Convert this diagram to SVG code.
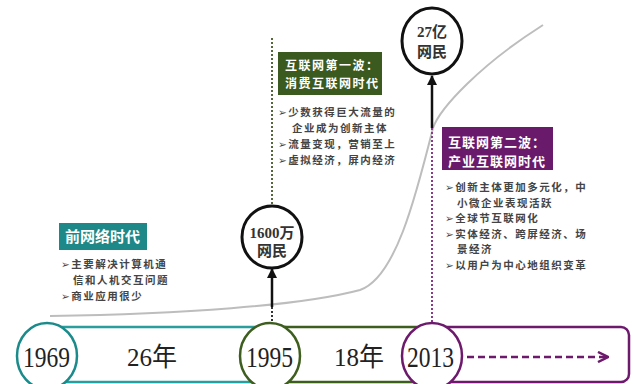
<svg xmlns="http://www.w3.org/2000/svg" width="633" height="384" viewBox="0 0 633 384">
<defs>
<style>
.ttl{font-family:"Noto Sans CJK SC",sans-serif;font-weight:700;fill:#fff;}
.bul{font-family:"Noto Sans CJK SC","DejaVu Sans",sans-serif;font-size:10.5px;letter-spacing:1.5px;font-weight:700;fill:#444;}
.yr{font-family:"Liberation Serif","Noto Sans CJK SC",serif;font-size:29px;fill:#222;}
.gap{font-family:"Liberation Serif","Noto Sans CJK SC",serif;font-size:26px;fill:#222;}
.cl{font-family:"Liberation Serif","Noto Sans CJK SC",serif;font-size:15px;font-weight:700;fill:#333;text-anchor:middle;}
.bc{fill:#fff;stroke:#111;stroke-width:3;}
</style>
<marker id="ah" viewBox="0 0 10 10" refX="9" refY="5" markerWidth="4" markerHeight="4" orient="auto">
<path d="M0,0 L10,5 L0,10 z" fill="#111"/>
</marker>
<marker id="pa" viewBox="0 0 10 10" refX="9" refY="5" markerWidth="5" markerHeight="5" orient="auto" markerUnits="strokeWidth">
<path d="M1,1 L9,5 L1,9" fill="none" stroke="#6d1a6d" stroke-width="2"/>
</marker>
</defs>
<rect width="633" height="384" fill="#fff"/>

<!-- growth curve -->
<path id="curve" d="M50,316 C180,314 300,306 360,290 C395,278 415,200 433,128 C440,108 480,65 543,25" fill="none" stroke="#bdbdbd" stroke-width="2"/>

<!-- timeline bands -->
<g id="bands">
<rect x="45" y="327" width="240" height="55" fill="none" stroke="#2a9d9d" stroke-width="2.5"/>
<rect x="270" y="327" width="170" height="55" fill="none" stroke="#3d5e1e" stroke-width="2.5"/>
<rect x="432" y="327" width="197" height="55" rx="8" fill="#fff" stroke="#6d1a6d" stroke-width="2.5"/>
</g>

<g id="connectors">
<line x1="272" y1="38" x2="272" y2="207" stroke="#55683a" stroke-width="2" stroke-dasharray="2,2"/>
<line x1="272" y1="307" x2="272" y2="323" stroke="#333" stroke-width="2" stroke-dasharray="2,2"/>
<line x1="272" y1="307" x2="272" y2="269" stroke="#111" stroke-width="2.5" marker-end="url(#ah)"/>
<line x1="432" y1="128" x2="432" y2="323" stroke="#8a3a8a" stroke-width="2" stroke-dasharray="2,2"/>
<line x1="432" y1="128" x2="432" y2="76" stroke="#111" stroke-width="2.5" marker-end="url(#ah)"/>
<line x1="467" y1="357" x2="608" y2="357" stroke="#6d1a6d" stroke-width="2.5" stroke-dasharray="7,4" marker-end="url(#pa)"/>
</g>

<g id="y1969">
<ellipse cx="47" cy="356" rx="30" ry="33" fill="#fff" stroke="#1a8a8a" stroke-width="2.5"/>
<text class="yr" x="23" y="367" textLength="47" lengthAdjust="spacingAndGlyphs">1969</text>
</g>
<text id="gap26" class="gap" x="127" y="366" textLength="50" lengthAdjust="spacingAndGlyphs">26年</text>
<g id="y1995">
<ellipse cx="270" cy="356" rx="30" ry="33" fill="#fff" stroke="#3d5e1e" stroke-width="2.5"/>
<text class="yr" x="246" y="367" textLength="47" lengthAdjust="spacingAndGlyphs">1995</text>
</g>
<text id="gap18" class="gap" x="334" y="366" textLength="50" lengthAdjust="spacingAndGlyphs">18年</text>
<g id="y2013">
<ellipse cx="432" cy="356" rx="30" ry="33" fill="#fff" stroke="#6d1a6d" stroke-width="2.5"/>
<text class="yr" x="407" y="367" textLength="47" lengthAdjust="spacingAndGlyphs">2013</text>
</g>

<g id="users1600">
<ellipse class="bc" cx="272" cy="237" rx="30" ry="31"/>
<text class="cl" x="272" y="238">1600万</text>
<text class="cl" x="272" y="256">网民</text>
</g>
<g id="users27">
<ellipse class="bc" cx="432" cy="41" rx="30" ry="33"/>
<text class="cl" x="432" y="37">27亿</text>
<text class="cl" x="432" y="57">网民</text>
</g>

<g id="preweb">
<rect x="59" y="223" width="88" height="27" fill="#1e8888"/>
<text class="ttl" x="65" y="242" font-size="15">前网络时代</text>
<text class="bul" x="61" y="268">➢主要解决计算机通</text>
<text class="bul" x="73" y="284">信和人机交互问题</text>
<text class="bul" x="61" y="300">➢商业应用很少</text>
</g>

<g id="wave1">
<rect x="278" y="52" width="104" height="43" fill="#3b5a1f"/>
<text class="ttl" x="285" y="69.5" font-size="12" letter-spacing="1.5">互联网第一波：</text>
<text class="ttl" x="285" y="87.5" font-size="12" letter-spacing="1.5">消费互联网时代</text>
<text class="bul" x="278" y="116">➢少数获得巨大流量的</text>
<text class="bul" x="292" y="132">企业成为创新主体</text>
<text class="bul" x="278" y="148">➢流量变现，营销至上</text>
<text class="bul" x="278" y="164">➢虚拟经济，屏内经济</text>
</g>

<g id="wave2">
<rect x="442" y="127" width="111" height="43" fill="#6a1a6a"/>
<text class="ttl" x="448" y="146.5" font-size="13" letter-spacing="1">互联网第二波：</text>
<text class="ttl" x="448" y="165.5" font-size="13" letter-spacing="1">产业互联网时代</text>
<text class="bul" x="445" y="191">➢创新主体更加多元化，中</text>
<text class="bul" x="457" y="206.5">小微企业表现活跃</text>
<text class="bul" x="445" y="222">➢全球节互联网化</text>
<text class="bul" x="445" y="237.5">➢实体经济、跨屏经济、场</text>
<text class="bul" x="457" y="253">景经济</text>
<text class="bul" x="445" y="268.5">➢以用户为中心地组织变革</text>
</g>
</svg>
